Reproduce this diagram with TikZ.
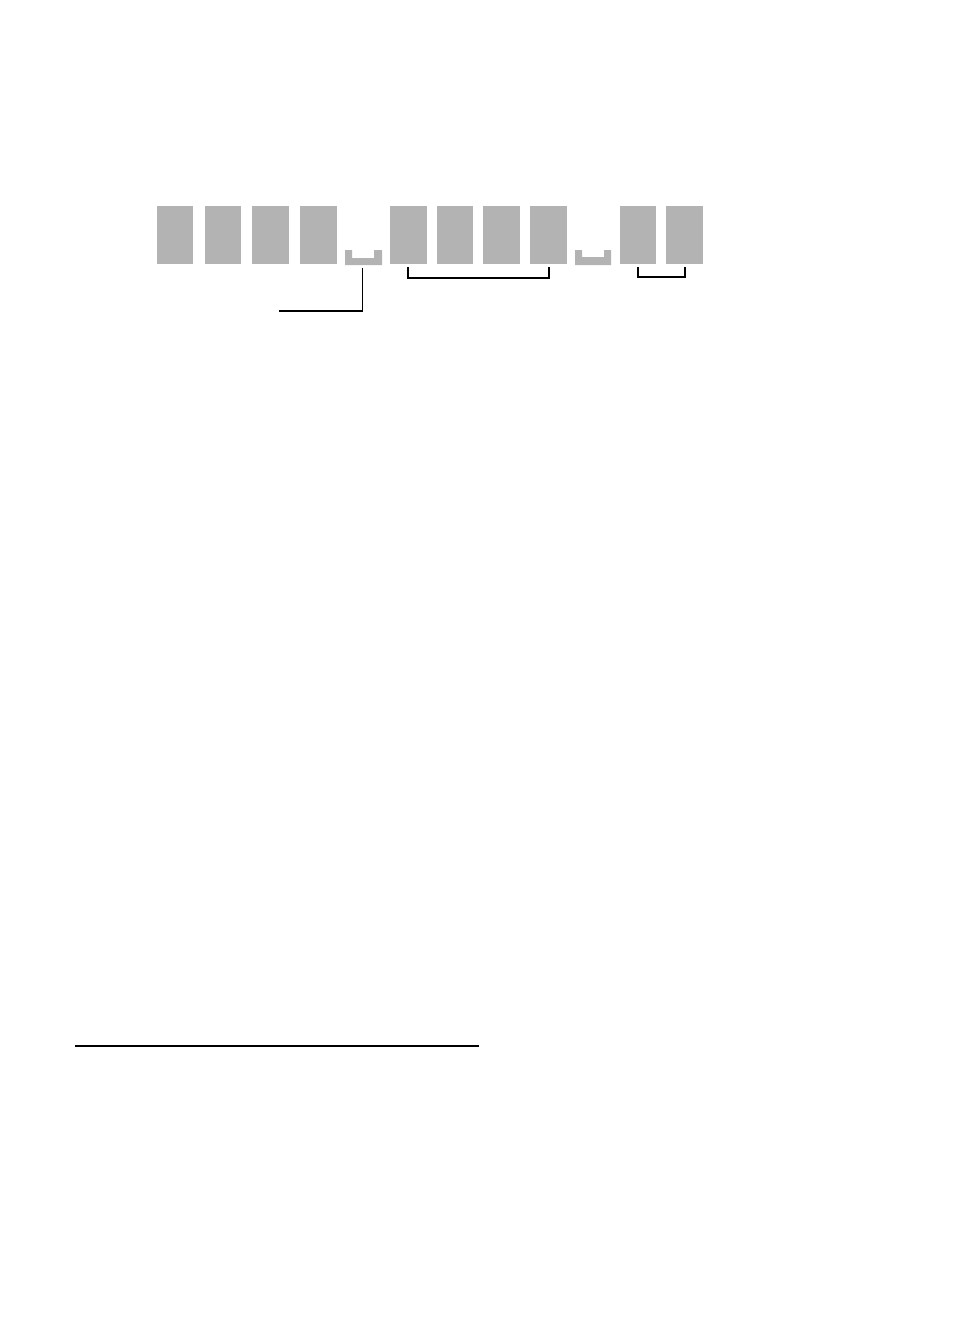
\documentclass[tikz,border=0pt]{standalone}
\begin{document}
\begin{tikzpicture}[x=1pt,y=-1pt,
  key/.style={fill=keygray,draw=none},
  thickline/.style={line width=1.8pt,black},
  thinline/.style={line width=1.1pt,black}]
\definecolor{keygray}{RGB}{179,179,179}
\useasboundingbox (0,0) rectangle (954,1322);
% character boxes
\foreach \a/\b [count=\i] in {157/193,205/241,252/289,300/337,390/427,437/473,483/520,530/567,620/656,666/703}{
  \fill[keygray] (\a,206) rectangle (\b,264) coordinate (k\i);
}
% visible space symbols
\fill[keygray] (345,250) -- (352,250) -- (352,258) -- (374,258) -- (374,250) -- (382,250) -- (382,265) -- (345,265) -- cycle;
\coordinate (sp1) at (363,265);
\fill[keygray] (575,250) -- (582,250) -- (582,257) -- (604,257) -- (604,250) -- (611,250) -- (611,265) -- (575,265) -- cycle;
% connectors
\coordinate (c1) at (279,311);
\draw[thickline] (362.5,268) -- (362.5,311) -- (c1);
\coordinate (b1a) at (408,267);
\coordinate (b1b) at (549,267);
\draw[thickline] (b1a) -- (408,278) -- (549,278) -- (b1b);
\coordinate (b2a) at (638,267);
\coordinate (b2b) at (685,267);
\draw[thinline] (b2a) -- (638,277) -- (685,277) -- (b2b);
% bottom rule
\coordinate (r1) at (75,1046);
\coordinate (r2) at (479,1046);
\draw[line width=1.3pt] (r1) -- (r2);
\end{tikzpicture}
\end{document}
